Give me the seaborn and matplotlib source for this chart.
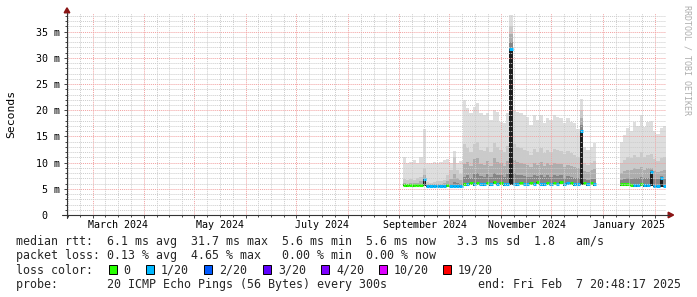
import matplotlib
matplotlib.use("Agg")
import matplotlib.pyplot as plt
import matplotlib.dates as mdates
import matplotlib.transforms as mtrans
from matplotlib.patches import Polygon, Rectangle
from matplotlib.lines import Line2D
import numpy as np
import pandas as pd
import seaborn as sns
from datetime import datetime, timedelta

# ---------------- data (milliseconds, 2-day bins) ----------------
seg1_start = "2024-09-03"
seg2_start = "2025-01-11"

rtt_min_1 = [5.5, 5.4, 5.5, 5.4, 5.5, 5.5, 5.5, 5.4, 5.4, 5.4,
             5.4, 5.4, 5.4, 5.4, 5.4, 5.4, 5.4, 5.4, 5.7, 5.6,
             5.8, 5.6, 5.9, 5.7, 5.6, 5.9, 5.6, 6.0, 5.7, 5.9,
             5.6, 5.7, 5.7, 5.7, 5.6, 5.9, 5.7, 5.6, 5.9, 5.7,
             6.0, 5.7, 5.6, 5.9, 5.7, 5.9, 5.7, 6.0, 5.6, 5.8,
             5.9, 5.6, 5.7, 5.7, 5.8, 5.6, 5.9, 5.6]
rtt_max_1 = [11.1, 9.9, 10.2, 10.5, 9.9, 11.1, 16.5, 10.0, 10.0, 10.1,
             9.9, 10.2, 10.5, 10.6, 9.9, 12.3, 10.0, 10.4, 22.0, 20.5,
             19.5, 20.7, 21.3, 19.4, 19.1, 19.4, 18.1, 20.0, 19.7, 17.8,
             17.5, 19.4, 38.2, 20.0, 19.7, 19.4, 19.1, 18.8, 17.2, 19.1,
             18.1, 19.1, 17.5, 18.5, 18.1, 19.1, 18.8, 18.5, 17.5, 18.5,
             17.8, 17.5, 16.5, 22.2, 13.0, 12.4, 13.0, 13.7]
rtt_p90_1 = [6.8, 6.6, 6.9, 6.7, 7.0, 7.3, 9.0, 6.3, 6.2, 6.3,
             6.4, 6.5, 6.7, 7.6, 8.5, 11.0, 8.6, 7.8, 13.5, 12.8,
             12.0, 13.5, 14.0, 12.5, 12.2, 13.0, 12.0, 13.8, 13.0, 12.4,
             12.0, 13.2, 36.0, 13.5, 13.0, 12.8, 12.5, 12.2, 11.5, 12.6,
             12.0, 12.8, 11.8, 12.4, 12.0, 12.6, 12.4, 12.2, 11.6, 12.2,
             11.8, 11.5, 11.0, 20.0, 10.0, 9.6, 10.0, 10.4]
rtt_p75_1 = [6.1, 6.0, 6.2, 6.1, 6.2, 6.4, 7.6, 5.9, 5.9, 5.9,
             5.9, 6.0, 6.1, 6.4, 6.8, 7.8, 7.0, 6.6, 9.8, 10.2,
             9.3, 10.6, 10.9, 9.8, 9.6, 10.3, 9.4, 10.8, 10.2, 9.9,
             9.4, 10.3, 34.5, 10.5, 10.2, 10.0, 9.8, 9.6, 9.2, 9.9,
             9.5, 10.1, 9.4, 9.9, 9.6, 10.0, 9.8, 9.7, 9.2, 9.6,
             9.4, 9.2, 9.0, 18.5, 8.4, 8.2, 8.6, 8.7]
rtt_p60_1 = [5.9, 5.8, 5.9, 5.8, 5.9, 6.0, 7.0, 5.7, 5.7, 5.7,
             5.7, 5.7, 5.7, 5.9, 6.0, 6.3, 6.1, 6.0, 7.3, 7.6,
             7.1, 7.8, 8.0, 7.5, 7.3, 7.8, 7.2, 8.1, 7.7, 7.6,
             7.3, 7.9, 33.0, 8.0, 7.7, 7.7, 7.5, 7.3, 7.2, 7.6,
             7.5, 7.7, 7.2, 7.6, 7.3, 7.7, 7.5, 7.6, 7.1, 7.4,
             7.3, 7.1, 7.0, 17.2, 6.8, 6.7, 6.9, 6.9]
median_1 = [5.8, 5.7, 5.8, 5.7, 5.8, 5.8, 6.8, 5.6, 5.6, 5.6,
            5.6, 5.6, 5.6, 5.7, 5.6, 5.6, 5.6, 5.6, 6.0, 5.9,
            6.1, 5.9, 6.2, 6.0, 5.9, 6.2, 5.9, 6.3, 6.0, 6.2,
            5.9, 6.0, 31.7, 6.0, 5.9, 6.2, 6.0, 5.9, 6.2, 6.0,
            6.3, 6.0, 5.9, 6.2, 6.0, 6.2, 6.0, 6.3, 5.9, 6.1,
            6.2, 5.9, 6.0, 16.0, 6.1, 5.9, 6.2, 5.9]
loss_1 = [0, 0, 0, 0, 0, 0, 1, 1, 1, 1,
          1, 1, 1, 0, 1, 1, 1, 1, 0, 1,
          0, 1, 0, 1, 1, 0, 1, 0, 1, 0,
          1, 1, 1, 1, 1, 0, 1, 1, 0, 1,
          0, 1, 1, 0, 1, 0, 1, 0, 1, 1,
          0, 1, 1, 1, 0, 1, 0, 1]

rtt_min_2 = [5.6, 5.6, 5.6, 5.5, 5.4, 5.4, 5.6, 5.4, 5.4, 5.5, 5.4, 5.4, 5.4, 5.4]
rtt_max_2 = [14.0, 15.3, 16.6, 16.0, 17.8, 17.0, 19.0, 16.8, 17.8, 18.0, 16.0, 15.5, 16.6, 17.0]
rtt_p90_2 = [10.0, 10.5, 11.0, 10.8, 11.5, 11.0, 12.0, 11.0, 11.5, 11.6, 10.6, 10.4, 10.8, 11.0]
rtt_p75_2 = [8.0, 8.4, 8.6, 8.5, 9.0, 8.7, 9.2, 8.6, 9.0, 9.0, 8.4, 8.2, 8.4, 8.6]
rtt_p60_2 = [6.7, 6.9, 7.0, 6.9, 7.1, 7.0, 7.2, 7.0, 7.1, 8.6, 6.9, 6.8, 7.5, 6.9]
median_2 = [5.9, 5.9, 5.9, 5.8, 5.7, 5.7, 5.9, 5.7, 5.7, 8.2, 5.6, 5.6, 7.1, 5.6]
loss_2 = [0, 0, 0, 0, 1, 1, 0, 1, 1, 1, 1, 1, 1, 1]

loss_levels = [0, 1, 2, 3, 4, 10, 19]
loss_labels = ["0", "1/20", "2/20", "3/20", "4/20", "10/20", "19/20"]
loss_colors = ["#26ff00", "#00b8ff", "#0059ff", "#5e00ff", "#7e00ff", "#dd00ff", "#ff0000"]

month_labels = ["March 2024", "May 2024", "July 2024", "September 2024",
                "November 2024", "January 2025"]
month_label_dates = ["2024-03-16 12:00", "2024-05-16 12:00", "2024-07-16 12:00",
                     "2024-09-16 12:00", "2024-11-16 12:00", "2025-01-16 12:00"]
y_ticks = [0, 5, 10, 15, 20, 25, 30, 35]
y_tick_labels = ["0", "5 m", "10 m", "15 m", "20 m", "25 m", "30 m", "35 m"]

legend_row1 = "median rtt:  6.1 ms avg  31.7 ms max  5.6 ms min  5.6 ms now   3.3 ms sd  1.8   am/s"
legend_row2 = "packet loss: 0.13 % avg  4.65 % max   0.00 % min  0.00 % now"
legend_row3 = "loss color:"
legend_row4 = "probe:       20 ICMP Echo Pings (56 Bytes) every 300s             end: Fri Feb  7 20:48:17 2025"
loss_box_x = [108.5, 145.5, 204, 263, 321, 379, 443]

# ---------------- styling ----------------
sns.set_theme(style="white")
plt.rcParams["font.family"] = ["DejaVu Sans Mono", "DejaVu Sans"]

W, H = 697, 297
fig = plt.figure(figsize=(W / 100, H / 100), dpi=100)
fig.patch.set_facecolor("white")


def fx(x):
    return x / W


def fy(y):
    return 1 - y / H


ax = fig.add_axes([fx(67), fy(215), (666 - 67) / W, (215 - 13) / H])
ax.set_facecolor("white")
sns.despine(ax=ax, left=True, bottom=True)

t_end = datetime(2025, 2, 7, 20, 48, 17)
t_start = t_end - timedelta(days=359.2)


def loss_color(v):
    for thr, c in zip(loss_levels, loss_colors):
        if v <= thr:
            return c
    return loss_colors[-1]


def draw_segment(start, rmin, rmax, p90, p75, p60, med, loss):
    n = len(rmax)
    edges = mdates.date2num(pd.date_range(start, periods=n + 1, freq="2D"))
    ext = lambda a: np.append(np.asarray(a, float), a[-1])
    layers = [(rmax, "#dedede"), (p90, "#cacaca"), (p75, "#adadad"),
              (p60, "#858585"), (med, "#1e1e1e")]
    for vals, col in layers:
        ax.fill_between(edges, ext(rmin), ext(vals), step="post",
                        color=col, lw=0, zorder=1)
    cols = [loss_color(v) for v in loss]
    ax.hlines(med, edges[:-1], edges[1:], colors=cols, lw=2.2, zorder=2)


draw_segment(seg1_start, rtt_min_1, rtt_max_1, rtt_p90_1, rtt_p75_1, rtt_p60_1, median_1, loss_1)
draw_segment(seg2_start, rtt_min_2, rtt_max_2, rtt_p90_2, rtt_p75_2, rtt_p60_2, median_2, loss_2)

# grid / ticks
month_starts = pd.date_range("2024-02-01", "2025-03-01", freq="MS")
minor_x = []
for m in month_starts[:-1]:
    nd = m.days_in_month
    for q in (1, 2, 3):
        minor_x.append(m + pd.Timedelta(days=nd * q / 4))
ax.set_xticks(mdates.date2num(month_starts))
ax.set_xticks(mdates.date2num(pd.DatetimeIndex(minor_x)), minor=True)
ax.set_xticklabels([])
ax.set_yticks(y_ticks)
ax.set_yticks(np.arange(0, 39, 1), minor=True)
ax.set_yticklabels([])
ax.set_xlim(mdates.date2num(t_start), mdates.date2num(t_end))
ax.set_ylim(0, 38.57)

ax.set_axisbelow(False)
ax.grid(which="major", color="#f2a0a0", ls=(0, (1, 1)), lw=0.7)
ax.grid(which="minor", color="#cccccc", ls=(0, (1, 1)), lw=0.7)
ax.tick_params(which="major", direction="out", length=2.4, width=0.7, color="#444444",
               left=True, bottom=True)
ax.tick_params(which="minor", direction="out", length=1.5, width=0.7, color="#444444",
               left=True, bottom=True)

# y tick labels
ytr = mtrans.blended_transform_factory(ax.transAxes, ax.transData)
for v, lab in zip(y_ticks, y_tick_labels):
    xr = 60 if lab != "0" else 47.5
    ax.text((xr - 67) / 599, v, lab, transform=ytr, ha="right", va="center_baseline",
            fontsize=7.2, color="black")

# x month labels
xtr = mtrans.blended_transform_factory(ax.transData, ax.transAxes)
for d, lab in zip(month_label_dates, month_labels):
    ax.text(mdates.date2num(pd.Timestamp(d)), (215 - 228.3) / 202, lab, transform=xtr,
            ha="center", va="baseline", fontsize=7.2, color="black")

# axis lines and arrows
fig.add_artist(Line2D([fx(67), fx(67)], [fy(218), fy(12.5)], color="#333333", lw=0.8,
                      transform=fig.transFigure))
fig.add_artist(Line2D([fx(62), fx(668.5)], [fy(215), fy(215)], color="#333333", lw=0.8,
                      transform=fig.transFigure))
fig.add_artist(Polygon([[fx(64.2), fy(12.8)], [fx(69.8), fy(12.8)], [fx(67), fy(7.8)]],
                       closed=True, color="#8a1414", transform=fig.transFigure))
fig.add_artist(Polygon([[fx(668.2), fy(212.2)], [fx(668.2), fy(217.8)], [fx(673.6), fy(215)]],
                       closed=True, color="#8a1414", transform=fig.transFigure))

# y label
fig.text(fx(11), fy(114), "Seconds", rotation=90, ha="center", va="center",
         fontsize=8.2, color="black")

# watermark
fig.text(fx(686.5), fy(5), "RRDTOOL / TOBI OETIKER", rotation=270, ha="center", va="top",
         fontsize=6.0, color="#adadad")

# legend rows
LF = 8.37
fig.text(fx(16), fy(245.2), legend_row1, ha="left", va="baseline", fontsize=LF)
fig.text(fx(16), fy(259.5), legend_row2, ha="left", va="baseline", fontsize=LF)
fig.text(fx(16), fy(273.5), legend_row3, ha="left", va="baseline", fontsize=LF)
for bx, lab, col in zip(loss_box_x, loss_labels, loss_colors):
    fig.add_artist(Rectangle((fx(bx), fy(273.5)), 8 / W, 9 / H, facecolor=col,
                             edgecolor="black", lw=0.7, transform=fig.transFigure))
    fig.text(fx(bx + 15), fy(273.5), lab, ha="left", va="baseline", fontsize=LF)
fig.text(fx(16), fy(288), legend_row4, ha="left", va="baseline", fontsize=LF)

fig.savefig("out.png", dpi=100, facecolor="white")
